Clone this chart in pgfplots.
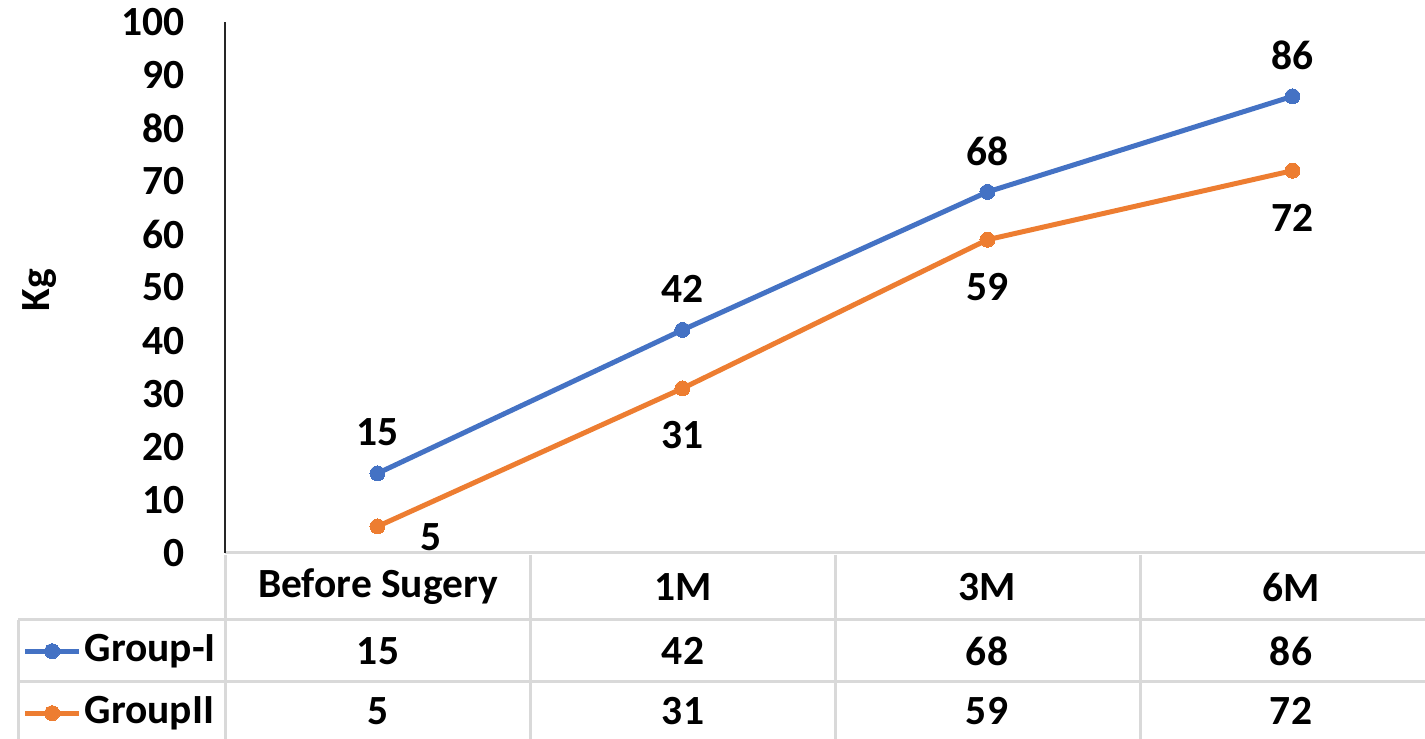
\documentclass[border=0pt]{standalone}
\usepackage{fontspec}
\setmainfont{Carlito}
\usepackage{pgfplots}
\pgfplotsset{compat=1.18}
\definecolor{cblue}{HTML}{4472C4}
\definecolor{corange}{HTML}{ED7D31}
\definecolor{tgrid}{HTML}{D9D9D9}
\newcommand{\cf}{\fontsize{41.5}{48}\selectfont\bfseries}
\begin{document}
\cf
\begin{tikzpicture}[x=1pt,y=1pt]
\begin{axis}[
  at={(225pt,186pt)}, anchor=south west, scale only axis,
  width=1220pt, height=531pt,
  xmin=-0.5, xmax=3.5, ymin=0, ymax=100,
  axis x line*=bottom, axis y line*=left,
  x axis line style={draw=tgrid, line width=3pt, -},
  y axis line style={draw=black!85, line width=1.5pt, -},
  xtick=\empty,
  ytick={0,10,...,100},
  major tick length=0pt,
  /pgf/number format/assume math mode=true,
  tick label style={font=\cf},
  yticklabel style={anchor=east, inner sep=0pt, xshift=-40pt},
  ylabel={Kg},
  ylabel style={at={(axis description cs:-0.1516,0.495)}, anchor=center, font=\cf},
  clip=false,
  legend style={at={(axis description cs:-0.166,-0.1262)}, anchor=north west, draw=none, fill=none,
    font=\cf, inner sep=0pt, row sep=0pt, column sep=3pt,
    nodes={inner sep=0pt, minimum height=62pt}},
  legend cell align=left,
  legend image code/.code={\draw[mark repeat=2,mark phase=2,#1] plot coordinates {(0pt,0pt) (27pt,0pt) (54pt,0pt)};},
]
\addplot[cblue, line width=5pt, mark=*, mark size=7.5pt, mark options={fill=cblue, draw=cblue, line width=0pt},
  nodes near coords, nodes near coords style={black, anchor=center, yshift=41pt, font=\cf}]
  coordinates {(0,15) (1,42) (2,68) (3,86)};
\addlegendentry{Group-I}
\addplot[corange, line width=5pt, mark=*, mark size=7.5pt, mark options={fill=corange, draw=corange, line width=0pt}]
  coordinates {(0,5) (1,31) (2,59) (3,72)};
\addlegendentry{GroupII}
\addplot[forget plot, draw=none, mark=none,
  nodes near coords, nodes near coords style={black, anchor=center, yshift=-47pt, font=\cf}]
  coordinates {(1,31) (2,59) (3,72)};
\addplot[forget plot, draw=none, mark=none,
  nodes near coords, nodes near coords style={black, anchor=center, xshift=54pt, yshift=-11pt, font=\cf}]
  coordinates {(0,5)};
\end{axis}
% data table grid
\begin{scope}[draw=tgrid, line width=3pt]
  \draw (18,119) -- (1445,119);
  \draw (18,57) -- (1445,57);
  \draw (18,119) -- (18,-10);
  \draw (225,184) -- (225,-10);
  \draw (530,184) -- (530,-10);
  \draw (835,184) -- (835,-10);
  \draw (1140,184) -- (1140,-10);
\end{scope}
% table texts
\foreach \x/\t in {378/Before Sugery, 683/1M, 987/3M, 1291/6M} \node at (\x,152) {\t};
\foreach \x/\t in {378/15, 683/42, 987/68, 1291/86} \node at (\x,88) {\t};
\foreach \x/\t in {378/5, 683/31, 987/59, 1291/72} \node at (\x,28) {\t};
\pgfresetboundingbox
\useasboundingbox (0,0) rectangle (1425,739);
\end{tikzpicture}
\end{document}
